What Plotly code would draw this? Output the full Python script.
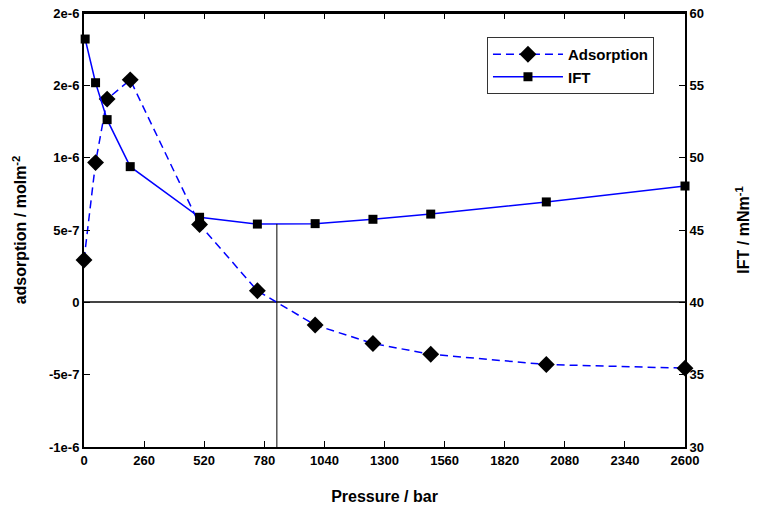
import numpy as np
import plotly.graph_objects as go

pressure_ads = [0, 50, 100, 200, 500, 750, 1000, 1250, 1500, 2000, 2600]
adsorption = [2.93e-7, 9.66e-7, 1.405e-6, 1.538e-6, 5.38e-7, 8.0e-8, -1.57e-7, -2.85e-7, -3.59e-7, -4.30e-7, -4.55e-7]

pressure_ift = [5, 50, 100, 200, 500, 750, 1000, 1250, 1500, 2000, 2600]
ift = [58.2, 55.18, 52.63, 49.38, 45.88, 45.41, 45.44, 45.74, 46.1, 46.94, 48.04]

y1_ticks = [-1e-6, -5e-7, 0, 5e-7, 1e-6, 1.5e-6, 2e-6]
y1_labels = ["-1e-6", "-5e-7", "0", "5e-7", "1e-6", "2e-6", "2e-6"]
y2_ticks = [30, 35, 40, 45, 50, 55, 60]
x_ticks = list(range(0, 2601, 260))

# pressure where adsorption crosses zero
i = next(k for k in range(len(adsorption) - 1) if adsorption[k] > 0 >= adsorption[k + 1])
p0 = pressure_ads[i] + (pressure_ads[i + 1] - pressure_ads[i]) * adsorption[i] / (adsorption[i] - adsorption[i + 1])
ift_at_p0 = float(np.interp(p0, pressure_ift, ift))

FONT = "Liberation Sans, Arial, sans-serif"

fig = go.Figure()
fig.add_trace(go.Scatter(
    x=pressure_ads, y=adsorption, name="Adsorption", mode="lines+markers",
    line=dict(color="#0000FF", width=1.5, dash="8px,5px"),
    marker=dict(symbol="diamond", size=13, color="black"),
    yaxis="y", cliponaxis=False))
fig.add_trace(go.Scatter(
    x=pressure_ift, y=ift, name="IFT", mode="lines+markers",
    line=dict(color="#0000FF", width=1.5),
    marker=dict(symbol="square", size=9, color="black"),
    yaxis="y2", cliponaxis=False))

fig.add_shape(type="line", xref="x", yref="y2", x0=p0, x1=p0, y0=30, y1=ift_at_p0,
              line=dict(color="black", width=1))
# top frame line
fig.add_shape(type="line", xref="paper", yref="paper", x0=0, x1=1, y0=1, y1=1,
              line=dict(color="black", width=2), layer="above")

tickfont = dict(family=FONT, size=13, color="black", weight="bold")
titlefont = dict(family=FONT, size=16, color="black", weight="bold")

fig.update_layout(
    width=757, height=507,
    margin=dict(l=84, r=72, t=13, b=60),
    plot_bgcolor="white", paper_bgcolor="white",
    showlegend=True,
    legend=dict(x=0.6705, y=0.9447, xanchor="left", yanchor="top",
                bordercolor="#333", borderwidth=1, bgcolor="white",
                font=dict(family=FONT, size=15, color="black", weight="bold"),
                itemwidth=70, tracegroupgap=0),
    xaxis=dict(range=[0, 2600], tickvals=x_ticks, ticks="inside", ticklen=6,
               tickwidth=1, tickcolor="black", showline=True, linecolor="black",
               linewidth=2, mirror="ticks", showgrid=False, zeroline=False,
               tickfont=tickfont, automargin=False,
               title=dict(text="Pressure / bar", font=titlefont, standoff=24)),
    xaxis2=dict(range=[0, 2600], tickvals=x_ticks, overlaying="x", side="top",
                anchor="y", ticks="inside", ticklen=6, tickwidth=1, tickcolor="black",
                showline=True, linecolor="black", linewidth=2, showgrid=False,
                zeroline=False, showticklabels=False, automargin=False),
    yaxis=dict(range=[-1e-6, 2e-6], tickvals=y1_ticks, ticktext=y1_labels,
               ticks="inside", ticklen=6, tickwidth=1, tickcolor="black",
               showline=True, linecolor="black", linewidth=2, showgrid=False,
               zeroline=True, zerolinecolor="#444", zerolinewidth=1.5,
               tickfont=tickfont, automargin=False, ticklabeloverflow="allow",
               title=dict(text="adsorption / molm<sup>-2</sup>", font=titlefont, standoff=18)),
    yaxis2=dict(range=[30, 60], tickvals=y2_ticks, overlaying="y", side="right",
                ticks="inside", ticklen=6, tickwidth=1, tickcolor="black",
                showline=True, linecolor="black", linewidth=2, showgrid=False,
                zeroline=False, tickfont=tickfont, automargin=False,
                ticklabeloverflow="allow",
                title=dict(text="IFT / mNm<sup>-1</sup>", font=titlefont, standoff=35)),
)

fig.write_html("out.html", config={"displayModeBar": False},
               post_script="document.body.style.margin='0';document.body.style.overflow='hidden';")
